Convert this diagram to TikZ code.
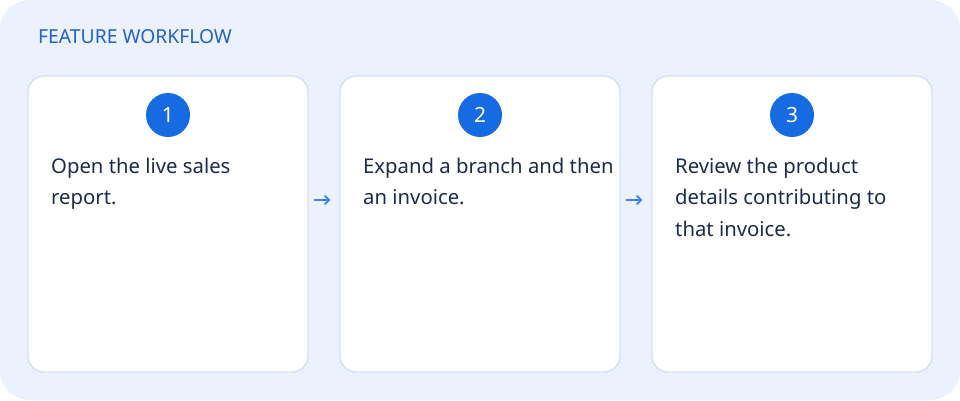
\documentclass[tikz,border=0pt]{standalone}
\usepackage{fontspec}
\setmainfont{Noto Sans}
\usetikzlibrary{positioning,calc,arrows.meta}

\definecolor{panelbg}{HTML}{EBF2FE}
\definecolor{cardline}{HTML}{D3E1F5}
\definecolor{titleblue}{HTML}{2562C2}
\definecolor{stepblue}{HTML}{166BE3}
\definecolor{flowblue}{HTML}{3A86EC}
\definecolor{bodyink}{HTML}{1C2B4B}

\tikzset{
  card/.style={draw=cardline, line width=1.4pt, fill=white, rounded corners=16pt,
    minimum width=280pt, minimum height=296pt, inner sep=0pt},
  stepdot/.style={circle, fill=stepblue, minimum size=44pt, inner sep=0pt,
    text=white, font=\fontsize{21}{24}\selectfont},
  steptext/.style={anchor=north west, inner sep=0pt, align=left, text=bodyink,
    font=\fontsize{20.3}{31.3}\selectfont},
  flow/.style={-{Straight Barb[length=4.5pt,width=9pt]}, draw=flowblue, line width=1.7pt}
}

\begin{document}
\begin{tikzpicture}[x=1pt,y=-1pt]
		% panel
		\useasboundingbox (0,0) rectangle (960,400);
		\fill[panelbg, rounded corners=30pt] (0,0) rectangle (960,400);
		\node[anchor=west, inner sep=0pt, text=titleblue, font=\fontsize{19.3}{22}\selectfont]
			(title) at (38,37) {FEATURE WORKFLOW};
		
		% cards
		\node[card] (card1) at (168,224) {};
		\node[card] (card2) at (480,224) {};
		\node[card] (card3) at (792,224) {};
		
		\node[stepdot] (dot1) at (168,115) {1};
		\node[stepdot] (dot2) at (480,115) {2};
		\node[stepdot] (dot3) at (792,115) {3};
		
		\node[steptext] (text1) at (51,158) {Open the live sales\\report.};
		\node[steptext] (text2) at (363,158) {Expand a branch and then\\an invoice.};
		\node[steptext] (text3) at (675,158) {Review the product\\details contributing to\\that invoice.};
		
		% arrows between cards
		\draw[flow] ($(card1.east)+(5,-24)$) -- ($(card2.west)+(-9,-24)$);
		\draw[flow] ($(card2.east)+(5,-24)$) -- ($(card3.west)+(-9,-24)$);
\end{tikzpicture}
\end{document}
